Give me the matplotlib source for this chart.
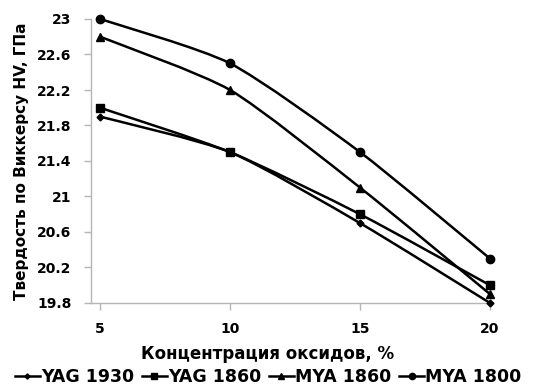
import numpy as np
import matplotlib
matplotlib.use("Agg")
import matplotlib.pyplot as plt
from matplotlib.path import Path
from matplotlib.patches import PathPatch
from matplotlib.lines import Line2D

plt.rcParams['font.family'] = ['DejaVu Sans']
plt.rcParams['font.weight'] = 'bold'

concentration = [5, 10, 15, 20]
yag_1930 = [21.9, 21.5, 20.7, 19.8]
yag_1860 = [22.0, 21.5, 20.8, 20.0]
mya_1860 = [22.8, 22.2, 21.1, 19.9]
mya_1800 = [23.0, 22.5, 21.5, 20.3]

series = [
    ("YAG 1930", yag_1930, "D", 3.5),
    ("YAG 1860", yag_1860, "s", 5.5),
    ("MYA 1860", mya_1860, "^", 6),
    ("MYA 1800", mya_1800, "o", 6),
]

y_ticks = [19.8, 20.2, 20.6, 21.0, 21.4, 21.8, 22.2, 22.6, 23.0]
y_tick_labels = ["19.8", "20.2", "20.6", "21", "21.4", "21.8", "22.2", "22.6", "23"]


def smooth_path(xs, ys, k=9.0):
    """Smoothed curve through the points, as cubic Bezier segments."""
    pts = np.column_stack([xs, ys]).astype(float)
    n = len(pts)
    verts = [pts[0]]
    codes = [Path.MOVETO]
    for i in range(n - 1):
        p0 = pts[i - 1] if i > 0 else pts[i]
        p1 = pts[i]
        p2 = pts[i + 1]
        p3 = pts[i + 2] if i + 2 < n else pts[i + 1]
        c1 = p1 + (p2 - p0) / k
        c2 = p2 - (p3 - p1) / k
        verts += [c1, c2, p2]
        codes += [Path.CURVE4] * 3
    return Path(verts, codes)


fig = plt.figure(figsize=(5.37, 3.92), dpi=100)
ax = fig.add_axes([91 / 537, 1 - 303 / 392, (490 - 91) / 537, (303 - 19) / 392])

ax.set_xlim(4.65, 20.0)
ax.set_ylim(19.8, 23.0)

handles = []
for name, vals, mk, ms in series:
    patch = PathPatch(smooth_path(concentration, vals), facecolor='none',
                      edgecolor='black', lw=1.8, transform=ax.transData,
                      clip_on=False, zorder=3)
    ax.add_patch(patch)
    ax.plot(concentration, vals, linestyle='none', marker=mk, ms=ms,
            color='black', clip_on=False, zorder=4)
    handles.append(Line2D([], [], color='black', lw=1.8, marker=mk,
                          ms=ms * 0.75, label=name))

axis_color = '#b5b5b5'
for side in ['top', 'right']:
    ax.spines[side].set_visible(False)
for side in ['left', 'bottom']:
    ax.spines[side].set_color(axis_color)
    ax.spines[side].set_linewidth(1.0)

ax.set_xticks(concentration)
ax.set_xticklabels([str(c) for c in concentration], fontsize=10, fontweight='bold')
ax.set_yticks(y_ticks)
ax.set_yticklabels(y_tick_labels, fontsize=10, fontweight='bold')
ax.tick_params(axis='both', color=axis_color, length=5, width=1.0, direction='out')
ax.tick_params(axis='y', pad=9)
ax.tick_params(axis='x', pad=9)

ax.set_xlabel("Концентрация оксидов, %", fontsize=12, fontweight='bold')
ax.xaxis.set_label_coords((268 - 91) / 399, -42 / 284)
ax.set_ylabel("Твердость по Виккерсу HV, ГПа", fontsize=11, fontweight='bold', labelpad=6)

fig.legend(handles=handles, loc='center', bbox_to_anchor=(0.5, 1 - 377 / 392),
           ncol=4, frameon=False, handlelength=1.4,
           handletextpad=0.1, columnspacing=0.45,
           prop={'weight': 'bold', 'size': 12.5})

fig.savefig("out.png", dpi=100, facecolor='white')
